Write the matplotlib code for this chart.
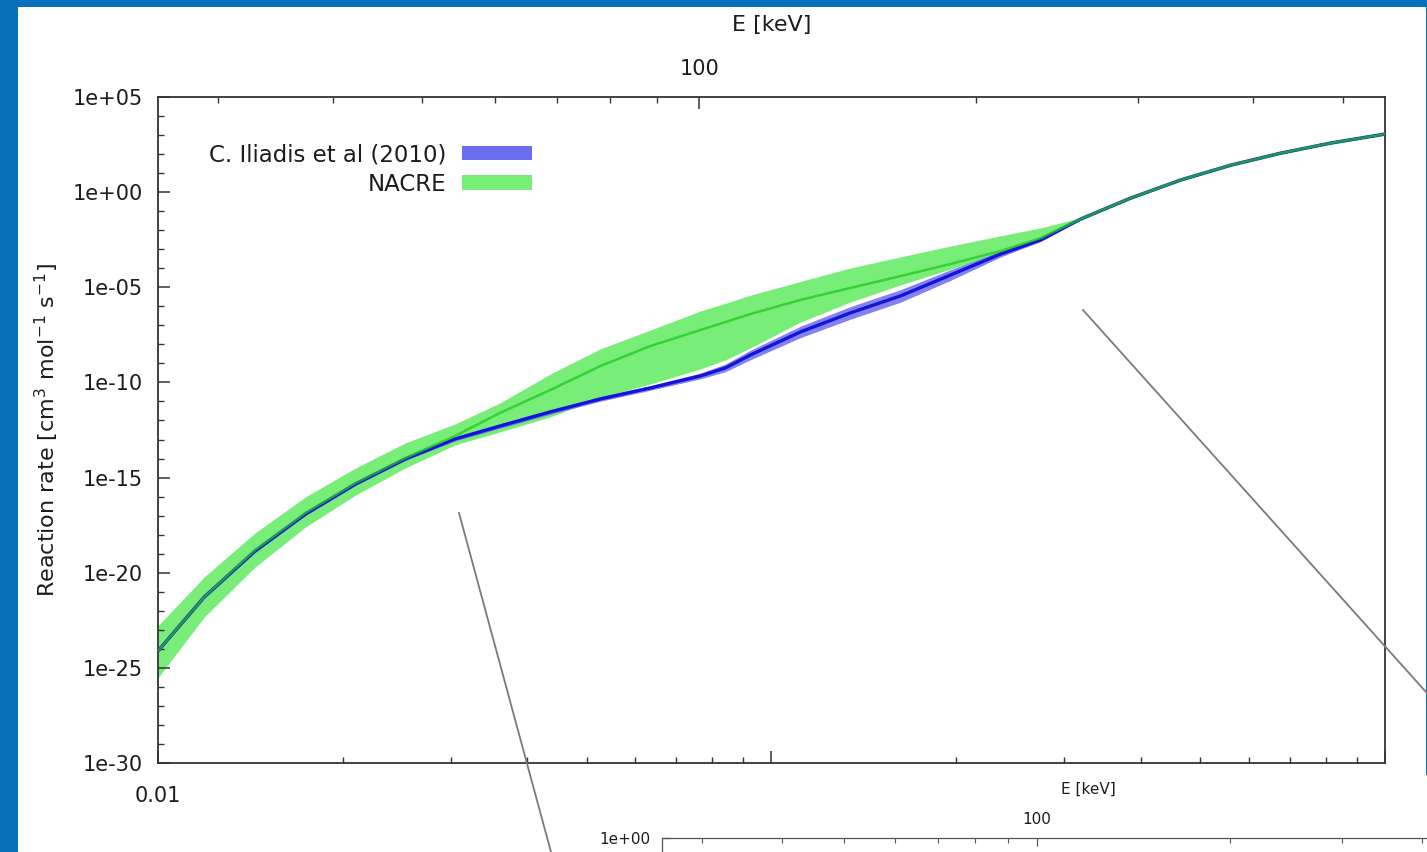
import numpy as np
import matplotlib
matplotlib.use('Agg')
import matplotlib.pyplot as plt
from matplotlib.patches import Patch, Rectangle
from matplotlib.lines import Line2D
from matplotlib.ticker import FixedLocator, FixedFormatter, NullFormatter, FuncFormatter, LogLocator

plt.rcParams['font.family'] = ['DejaVu Sans']
plt.rcParams['mathtext.fontset'] = 'dejavusans'

# ---------------- data ----------------
t9 = [0.0100, 0.0119, 0.0144, 0.0174, 0.0210, 0.0253, 0.0305, 0.0361, 0.0436,
      0.0526, 0.0635, 0.0766, 0.0841, 0.0924, 0.1115, 0.1345, 0.1623, 0.1959,
      0.2364, 0.2747, 0.3192, 0.3851, 0.4647, 0.5609, 0.6766, 0.8163, 1.0000]

# log10 of reaction rate
nacre_mid = [-24.10, -21.26, -18.80, -16.85, -15.28, -13.97, -12.81, -11.60, -10.40,
             -9.14, -8.09, -7.25, -6.83, -6.41, -5.67, -5.04, -4.42, -3.78,
             -3.10, -2.42, -1.42, -0.32, 0.63, 1.41, 2.04, 2.57, 3.04]
nacre_hi = [-22.78, -20.21, -17.90, -16.01, -14.49, -13.18, -12.18, -11.08, -9.56,
            -8.24, -7.25, -6.25, -5.85, -5.42, -4.70, -3.99, -3.41, -2.84,
            -2.30, -1.89, -1.35, -0.25, 0.70, 1.48, 2.11, 2.64, 3.11]
nacre_lo = [-25.51, -22.31, -19.69, -17.59, -15.91, -14.49, -13.28, -12.60, -11.81,
            -10.82, -10.08, -9.29, -8.82, -8.19, -6.83, -5.78, -4.88, -4.05,
            -3.20, -2.52, -1.49, -0.39, 0.56, 1.34, 1.97, 2.50, 2.97]

iliadis_mid = [-24.10, -21.26, -18.85, -16.91, -15.33, -14.02, -12.97, -12.29, -11.55,
               -10.87, -10.29, -9.66, -9.24, -8.56, -7.35, -6.35, -5.46, -4.36,
               -3.26, -2.52, -1.42, -0.32, 0.63, 1.41, 2.04, 2.57, 3.04]
iliadis_hi = [-24.02, -21.18, -18.77, -16.83, -15.25, -13.94, -12.87, -12.17, -11.43,
              -10.75, -10.17, -9.51, -9.04, -8.31, -7.05, -6.02, -5.13, -4.08,
              -3.11, -2.44, -1.38, -0.29, 0.66, 1.44, 2.07, 2.60, 3.07]
iliadis_lo = [-24.18, -21.34, -18.93, -16.99, -15.41, -14.10, -13.07, -12.41, -11.67,
              -10.99, -10.41, -9.81, -9.44, -8.81, -7.65, -6.68, -5.79, -4.64,
              -3.41, -2.60, -1.46, -0.35, 0.60, 1.38, 2.01, 2.54, 3.01]

series_labels = ['C. Iliadis et al (2010)', 'NACRE']

t9_major = [0.01, 0.1, 1.0]
t9_major_labels = ['0.01', '', '']
rate_major_exp = [-30, -25, -20, -15, -10, -5, 0, 5]

E_COEF = 556.0          # E [keV] = E_COEF * T9^(2/3)
E_major = [100]
E_major_labels = ['100']
E_minor = [30, 40, 50, 60, 70, 80, 90, 200, 300, 400, 500]

inset_E_range = (25.95, 556.0)
inset_E_minor = [30, 40, 50, 60, 70, 80, 90, 200, 300, 400, 500]

# ---------------- styling ----------------
W, H = 1427, 852
SLIDE_BLUE = '#0671b9'
GREEN_BAND = '#78ee78'
GREEN_LINE = '#22c822'
BLUE_BAND = '#6c6cf0'
BLUE_LINE = '#1414d8'
TXT = '#1c1c1c'
SPINE = '#333333'

fig = plt.figure(figsize=(W / 100, H / 100), dpi=100)
fig.patch.set_facecolor(SLIDE_BLUE)

# white slide panel
fig.add_artist(Rectangle((18 / W, 0), (1425.5 - 18) / W, (H - 7) / H,
                         transform=fig.transFigure, facecolor='white',
                         edgecolor='none', zorder=-10))
# white background of the lower inset picture
fig.add_artist(Rectangle((540 / W, 0), (W - 540) / W, (H - 775) / H,
                         transform=fig.transFigure, facecolor='white',
                         edgecolor='none', zorder=-9))

# ---------------- main axes ----------------
ax = fig.add_axes([158 / W, 1 - 763.3 / H, (1385 - 158) / W, (763.3 - 96.7) / H])
ax.set_xscale('log')
ax.set_yscale('log')
ax.set_xlim(t9_major[0], t9_major[-1])
ax.set_ylim(10.0 ** rate_major_exp[0], 10.0 ** rate_major_exp[-1])

T = np.array(t9)
p = lambda a: 10.0 ** np.array(a)
ax.fill_between(T, p(nacre_lo), p(nacre_hi), color=GREEN_BAND, lw=0, zorder=1)
ax.fill_between(T, p(iliadis_lo), p(iliadis_hi), color=BLUE_BAND, alpha=0.85, lw=0, zorder=2)
ax.plot(T, p(iliadis_mid), color=BLUE_LINE, lw=2.4, zorder=3)
ax.plot(T, p(nacre_mid), color=GREEN_LINE, lw=1.8, alpha=0.75, zorder=4)

for s in ax.spines.values():
    s.set_color(SPINE)
    s.set_linewidth(1.3)

ax.xaxis.set_major_locator(FixedLocator(t9_major))
ax.xaxis.set_major_formatter(FixedFormatter(t9_major_labels))
ax.xaxis.set_minor_locator(LogLocator(base=10, subs=np.arange(2, 10)))
ax.xaxis.set_minor_formatter(NullFormatter())
ax.yaxis.set_major_locator(FixedLocator([10.0 ** e for e in rate_major_exp]))
ax.yaxis.set_major_formatter(FuncFormatter(lambda v, pos: f"{v:.0e}"))
ax.yaxis.set_minor_locator(FixedLocator([10.0 ** e for e in range(-30, 6) if e % 5]))
ax.yaxis.set_minor_formatter(NullFormatter())

ax.tick_params(which='both', direction='in', top=False, right=False,
               colors=SPINE, labelcolor=TXT, labelsize=15)
ax.tick_params(which='major', length=8.5, width=1.1)
ax.tick_params(which='minor', length=4.3, width=1.0)
ax.tick_params(axis='x', which='major', pad=16)
ax.tick_params(axis='y', which='major', pad=11)

ax.set_ylabel('Reaction rate [cm$^3$ mol$^{-1}$ s$^{-1}$]', fontsize=16, color=TXT, labelpad=8)

# top energy axis
ax2 = ax.twiny()
ax2.set_xscale('log')
ax2.set_xlim(E_COEF * t9_major[0] ** (2 / 3), E_COEF * t9_major[-1] ** (2 / 3))
ax2.xaxis.set_major_locator(FixedLocator(E_major))
ax2.xaxis.set_major_formatter(FixedFormatter(E_major_labels))
ax2.xaxis.set_minor_locator(FixedLocator(E_minor))
ax2.xaxis.set_minor_formatter(NullFormatter())
ax2.tick_params(which='both', direction='in', colors=SPINE, labelcolor=TXT, labelsize=15)
ax2.tick_params(which='major', length=8.5, width=1.1, pad=13)
ax2.tick_params(which='minor', length=4.3, width=1.0)
ax2.set_xlabel('E [keV]', fontsize=16, color=TXT, labelpad=20)
for s in ax2.spines.values():
    s.set_visible(False)

# legend
handles = [Patch(facecolor=BLUE_BAND, edgecolor='none'),
           Patch(facecolor=GREEN_BAND, edgecolor='none')]
ax.legend(handles, series_labels, loc='upper right',
          bbox_to_anchor=(532 / W, 1 - 143 / H), bbox_transform=fig.transFigure,
          frameon=False, markerfirst=False, fontsize=16.5, handlelength=3.05,
          handleheight=0.62, handletextpad=0.7, labelspacing=0.3,
          borderpad=0, borderaxespad=0, labelcolor=TXT)

# ---------------- lower inset (partially visible) ----------------
top_frac = 1 - 838 / H
axi = fig.add_axes([662 / W, top_frac - 0.4, 852 / W, 0.4])
axi.set_xscale('log')
axi.set_yscale('log')
axi.set_xlim(*inset_E_range)
axi.set_ylim(1e-10, 1e0)
axi.xaxis.tick_top()
axi.xaxis.set_label_position('top')
axi.xaxis.set_major_locator(FixedLocator(E_major))
axi.xaxis.set_major_formatter(FixedFormatter(E_major_labels))
axi.xaxis.set_minor_locator(FixedLocator(inset_E_minor))
axi.xaxis.set_minor_formatter(NullFormatter())
axi.yaxis.set_major_locator(FixedLocator([1e0]))
axi.yaxis.set_major_formatter(FuncFormatter(lambda v, pos: f"{v:.0e}"))
axi.yaxis.set_minor_locator(FixedLocator([]))
axi.tick_params(which='both', direction='in', colors='#555555', labelcolor=TXT, labelsize=11)
axi.tick_params(which='major', length=6, width=0.9, pad=8)
axi.tick_params(which='minor', length=3.5, width=0.8)
axi.set_xlabel('E [keV]', fontsize=11, color=TXT, labelpad=13)
for k in ('right', 'bottom'):
    axi.spines[k].set_visible(False)
for k in ('top', 'left'):
    axi.spines[k].set_color('#555555')
    axi.spines[k].set_linewidth(0.9)

# zoom call-out lines
fig.add_artist(Line2D([1083 / W, 1426 / W], [1 - 310 / H, 1 - 692 / H],
                      transform=fig.transFigure, color='#7a7a7a', lw=1.3, zorder=5))
fig.add_artist(Line2D([459 / W, 551 / W], [1 - 513 / H, 1 - 852 / H],
                      transform=fig.transFigure, color='#7a7a7a', lw=1.3, zorder=5))

fig.savefig('out.png', dpi=100, facecolor=fig.get_facecolor())
